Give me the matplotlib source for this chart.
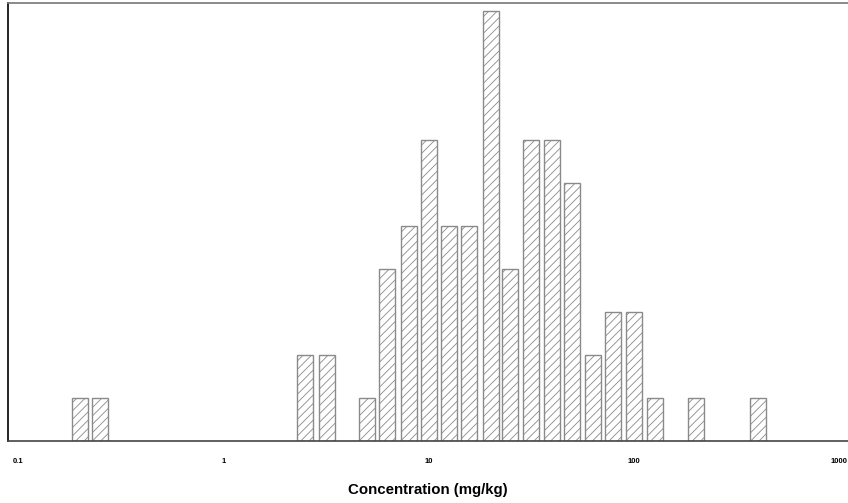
import numpy as np
import matplotlib.pyplot as plt

plt.rcParams['font.family'] = ['Liberation Sans', 'DejaVu Sans']
plt.rcParams['hatch.color'] = '#909090'
plt.rcParams['hatch.linewidth'] = 0.6

# bin centres (mg/kg, log-spaced 0.1 decade) and counts
conc = [0.2, 0.25, 2.5, 3.2, 5.0, 6.3, 8.0, 10, 12.6, 15.8, 20, 25, 31.6, 40,
        50, 63, 79, 100, 126, 200, 400]
counts = [1, 1, 2, 2, 1, 4, 5, 7, 5, 5, 10, 4, 7, 7, 6, 2, 3, 3, 1, 1, 1]
tick_vals = [0.1, 1, 10, 100, 1000]
tick_labels = ['0.1', '1', '10', '100', '1000']

half = 10 ** 0.039
conc = np.array(conc, dtype=float)
lefts = conc / half
widths = conc * half - lefts

fig = plt.figure(figsize=(8.48, 5.03), dpi=100)
ax = fig.add_axes([0.0094, 0.1233, 0.9906, 0.8707])

ax.bar(lefts, counts, width=widths, align='edge', color='white',
       edgecolor='#8a8a8a', linewidth=1.0, hatch='////')

ax.set_xscale('log')
ax.set_xlim(0.0895, 1100)
ax.set_ylim(0, 10.19)
ax.set_yticks([])
ax.set_xticks(tick_vals)
ax.set_xticklabels(tick_labels, fontsize=5.5, fontweight='bold')
ax.xaxis.set_minor_locator(plt.NullLocator())
ax.tick_params(axis='x', length=0, pad=12)

ax.spines['right'].set_visible(False)
ax.spines['left'].set_linewidth(1.2)
ax.spines['left'].set_color('black')
ax.spines['bottom'].set_color('#444444')
ax.spines['bottom'].set_linewidth(1.2)
ax.spines['top'].set_color('#777777')
ax.spines['top'].set_linewidth(1.2)

ax.set_xlabel('Concentration (mg/kg)', fontsize=10.8, fontweight='bold', labelpad=13)

fig.savefig('out.png', dpi=100)
